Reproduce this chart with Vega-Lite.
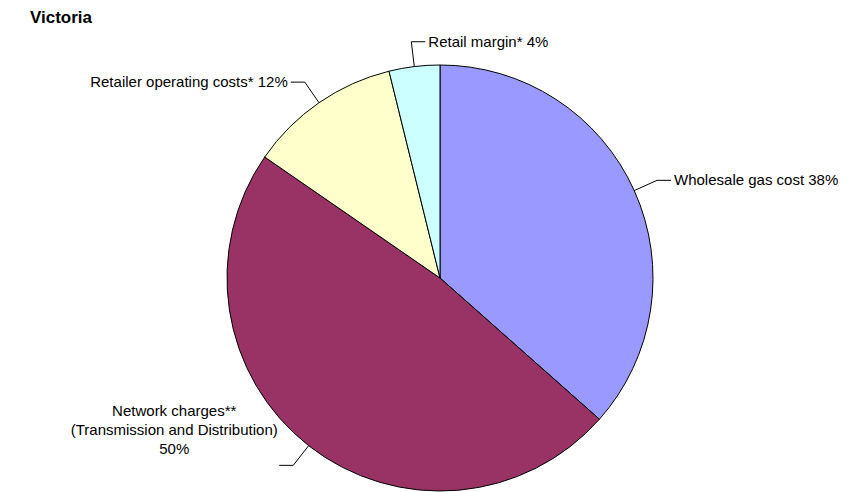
{
  "$schema": "https://vega.github.io/schema/vega-lite/v6.json",
  "width": 800,
  "height": 428,
  "autosize": {"type": "none"},
  "padding": {"left": 40, "top": 64, "right": 8, "bottom": 0},
  "background": "white",
  "title": {
    "text": "Victoria",
    "anchor": "start",
    "frame": "group",
    "font": "Liberation Sans",
    "fontSize": 17,
    "fontWeight": "bold",
    "color": "black",
    "dx": -10,
    "offset": 8
  },
  "config": {
    "view": {"stroke": null},
    "text": {"font": "Liberation Sans", "fontSize": 15, "color": "black", "lineHeight": 19}
  },
  "data": {
    "values": [
      {"idx": 1, "name": "Wholesale gas cost", "value": 38, "label": "Wholesale gas cost 38%"},
      {"idx": 2, "name": "Network charges", "value": 50, "label": ["Network charges**", "(Transmission and Distribution)", "50%"]},
      {"idx": 3, "name": "Retailer operating costs", "value": 12, "label": "Retailer operating costs* 12%"},
      {"idx": 4, "name": "Retail margin", "value": 4, "label": "Retail margin* 4%"}
    ]
  },
  "transform": [
    {"window": [{"op": "sum", "field": "value", "as": "cum"}], "sort": [{"field": "idx", "order": "ascending"}], "frame": [null, 0]},
    {"joinaggregate": [{"op": "sum", "field": "value", "as": "total"}]},
    {"calculate": "2 * PI * (datum.cum - datum.value / 2) / datum.total", "as": "a"},
    {"calculate": "213 * sin(datum.a)", "as": "ax"},
    {"calculate": "213 * cos(datum.a)", "as": "ay"},
    {"calculate": "238 * sin(datum.a)", "as": "ex"},
    {"calculate": "238 * cos(datum.a)", "as": "ey"},
    {"calculate": "sin(datum.a) > -0.2 ? 1 : -1", "as": "side"},
    {"calculate": "cos(datum.a) < -0.5 ? 1 : 0", "as": "low"},
    {"calculate": "datum.ex + datum.side * 14", "as": "tx"}
  ],
  "layer": [
    {
      "mark": {"type": "arc", "outerRadius": 213, "stroke": "black", "strokeWidth": 1},
      "encoding": {
        "theta": {"field": "value", "type": "quantitative", "stack": true},
        "order": {"field": "idx", "type": "quantitative"},
        "color": {
          "field": "name",
          "type": "nominal",
          "legend": null,
          "scale": {
            "domain": ["Wholesale gas cost", "Network charges", "Retailer operating costs", "Retail margin"],
            "range": ["#9999FF", "#993366", "#FFFFCC", "#CCFFFF"]
          }
        }
      }
    },
    {
      "mark": {"type": "rule", "color": "black", "strokeWidth": 1},
      "encoding": {
        "x": {"field": "ax", "type": "quantitative", "axis": null, "scale": {"domain": [-400, 400], "nice": false, "zero": false}},
        "y": {"field": "ay", "type": "quantitative", "axis": null, "scale": {"domain": [-214, 214], "nice": false, "zero": false}},
        "x2": {"field": "ex"},
        "y2": {"field": "ey"}
      }
    },
    {
      "mark": {"type": "rule", "color": "black", "strokeWidth": 1},
      "encoding": {
        "x": {"field": "ex", "type": "quantitative", "axis": null, "scale": {"domain": [-400, 400], "nice": false, "zero": false}},
        "y": {"field": "ey", "type": "quantitative", "axis": null, "scale": {"domain": [-214, 214], "nice": false, "zero": false}},
        "x2": {"field": "tx"}
      }
    },
    {
      "transform": [{"filter": "datum.side == 1"}],
      "mark": {"type": "text", "align": "left", "baseline": "middle", "dx": 3},
      "encoding": {
        "x": {"field": "tx", "type": "quantitative", "axis": null, "scale": {"domain": [-400, 400], "nice": false, "zero": false}},
        "y": {"field": "ey", "type": "quantitative", "axis": null, "scale": {"domain": [-214, 214], "nice": false, "zero": false}},
        "text": {"field": "label", "type": "nominal"}
      }
    },
    {
      "transform": [{"filter": "datum.side == -1 && datum.low == 0"}],
      "mark": {"type": "text", "align": "right", "baseline": "middle", "dx": -3},
      "encoding": {
        "x": {"field": "tx", "type": "quantitative", "axis": null, "scale": {"domain": [-400, 400], "nice": false, "zero": false}},
        "y": {"field": "ey", "type": "quantitative", "axis": null, "scale": {"domain": [-214, 214], "nice": false, "zero": false}},
        "text": {"field": "label", "type": "nominal"}
      }
    },
    {
      "transform": [{"filter": "datum.side == -1 && datum.low == 1"}],
      "mark": {"type": "text", "align": "center", "baseline": "bottom", "dx": -105, "dy": -46},
      "encoding": {
        "x": {"field": "tx", "type": "quantitative", "axis": null, "scale": {"domain": [-400, 400], "nice": false, "zero": false}},
        "y": {"field": "ey", "type": "quantitative", "axis": null, "scale": {"domain": [-214, 214], "nice": false, "zero": false}},
        "text": {"field": "label", "type": "nominal"}
      }
    }
  ]
}
